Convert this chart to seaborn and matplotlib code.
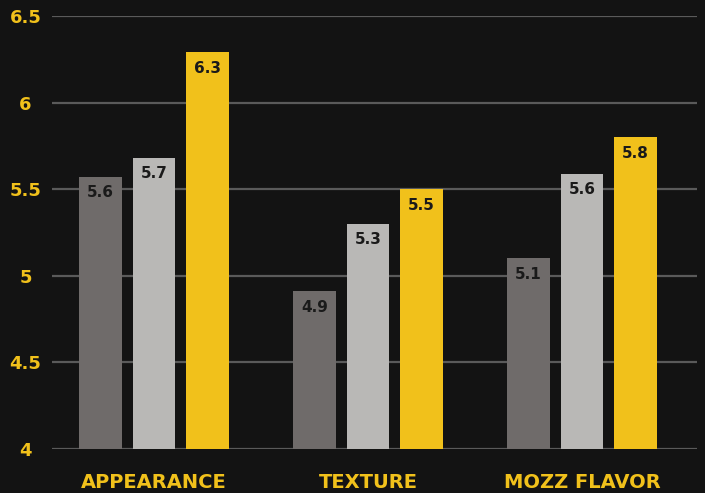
import pandas as pd
import matplotlib
matplotlib.use("Agg")
import matplotlib.pyplot as plt
import seaborn as sns

# data
categories = ['APPEARANCE', 'TEXTURE', 'MOZZ FLAVOR']
series = ['Series 1', 'Series 2', 'Series 3']
series_1 = [5.57, 4.91, 5.10]
series_2 = [5.68, 5.30, 5.59]
series_3 = [6.29, 5.50, 5.80]
y_ticks = [4, 4.5, 5, 5.5, 6, 6.5]
y_tick_labels = ['4', '4.5', '5', '5.5', '6', '6.5']

bg = '#131313'
yellow = '#f1c11b'
palette = ['#6f6b6a', '#b9b8b6', yellow]

df = pd.DataFrame({
    'Category': categories * 3,
    'Series': [s for s in series for _ in categories],
    'Score': series_1 + series_2 + series_3,
})

sns.set_style('dark')
plt.rcParams['font.family'] = ['DejaVu Sans']

fig = plt.figure(figsize=(7.05, 4.93), dpi=100, facecolor=bg)
ax = fig.add_axes([52 / 705, 44 / 493, 645 / 705, 433 / 493])
ax.set_facecolor(bg)

sns.barplot(data=df, x='Category', y='Score', hue='Series', palette=palette,
            width=0.75, gap=0.2, saturation=1, linewidth=0, edgecolor='none',
            ax=ax, legend=False)

ax.set_ylim(4, 6.5)
ax.set_xlim(-0.477, 2.537)
ax.set_yticks(y_ticks)
ax.set_yticklabels(y_tick_labels)
ax.set_axisbelow(True)
ax.grid(axis='y', color='#5a5a5a', linewidth=1.6)
ax.grid(axis='x', visible=False)
for s in ax.spines.values():
    s.set_visible(False)

ax.set_xlabel('')
ax.set_ylabel('')
ax.tick_params(axis='y', length=0, pad=19, labelsize=13, labelcolor=yellow)
ax.tick_params(axis='x', length=0, pad=17, labelsize=14, labelcolor=yellow)
for lbl in ax.get_yticklabels():
    lbl.set_horizontalalignment('center')
    lbl.set_fontweight('bold')
for lbl in ax.get_xticklabels():
    lbl.set_fontweight('bold')

# value labels inside the top of each bar
for container in ax.containers:
    texts = ax.bar_label(container, fmt='%.1f', padding=-6, fontsize=11,
                         fontweight='bold', color='#1a1a1a')
    for t in texts:
        t.set_va('top')

fig.savefig('out.png', dpi=100, facecolor=bg)
